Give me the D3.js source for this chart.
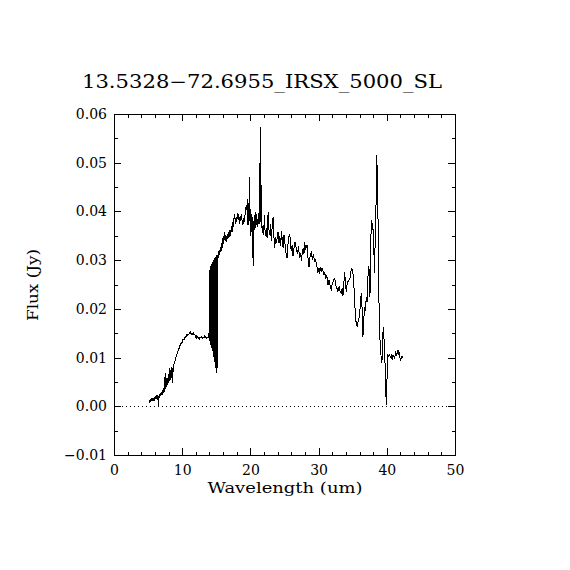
<!DOCTYPE html>
<html>
<head>
<meta charset="utf-8">
<script src="https://cdn.jsdelivr.net/npm/d3@7"></script>
<style>
html,body{margin:0;padding:0;background:#fff;}
svg{display:block;}
</style>
</head>
<body>
<svg id="chart" width="570" height="570"></svg>
<script>
// ---- data ----
const title = "13.5328\u221272.6955_IRSX_5000_SL";
const xLabel = "Wavelength (um)";
const yLabel = "Flux (Jy)";
const xTicks = [0, 10, 20, 30, 40, 50];
const xMinorTicks = [2,4,6,8,12,14,16,18,22,24,26,28,32,34,36,38,42,44,46,48];
const yTicks = [-0.01, 0.00, 0.01, 0.02, 0.03, 0.04, 0.05, 0.06];
const yMinorTicks = [-0.005, 0.005, 0.015, 0.025, 0.035, 0.045, 0.055];

const wavelength = [
5.17,5.25,5.32,5.40,5.48,5.56,5.64,5.72,5.80,5.88,5.96,6.04,6.12,6.20,6.28,6.36,6.44,6.50,6.56,6.64,
6.72,6.80,6.88,6.96,7.04,7.12,7.20,7.28,7.36,7.44,7.50,7.56,7.62,7.68,7.74,7.80,7.88,7.95,8.02,8.10,
8.16,8.22,8.30,8.36,8.42,8.50,8.56,8.62,8.68,8.76,8.85,8.95,9.05,9.15,9.25,9.35,9.45,9.55,9.66,9.75,
9.85,9.95,10.05,10.15,10.25,10.35,10.45,10.55,10.65,10.75,10.85,10.95,11.05,11.15,11.25,11.35,11.45,11.55,11.65,11.75,
11.85,11.95,12.05,12.15,12.25,12.35,12.45,12.55,12.65,12.75,12.85,12.95,13.05,13.15,13.25,13.35,13.45,13.55,13.65,13.75,
13.85,13.92,
13.95,13.975,14.00,14.025,14.05,14.075,14.10,14.125,14.15,14.175,14.20,14.225,14.25,14.275,14.30,14.325,14.35,14.375,14.40,14.425,
14.45,14.475,14.50,14.525,14.55,14.575,14.60,14.625,14.65,14.675,14.70,14.725,14.75,14.775,14.80,14.825,14.85,14.875,14.90,14.925,
14.95,14.975,15.00,15.025,15.05,15.075,15.10,15.125,15.15,15.175,15.20,15.225,15.25,
15.30,15.40,15.50,15.60,15.70,15.80,15.90,16.00,16.10,16.20,16.30,16.40,16.50,16.60,16.70,16.80,16.90,17.00,17.10,17.20,
17.30,17.40,17.50,17.60,17.70,17.80,17.90,18.00,18.10,18.20,18.30,18.40,18.50,18.60,18.70,18.80,18.90,19.00,19.10,19.20,
19.30,19.40,19.50,19.57,19.62,
19.65,19.70,19.75,19.80,19.85,19.90,19.95,20.00,20.05,20.10,20.15,20.20,20.25,20.30,20.35,20.40,20.45,20.50,20.55,20.60,
20.65,20.70,20.75,20.80,20.85,20.90,20.95,21.00,21.05,21.10,21.15,21.20,21.25,21.30,21.35,21.40,21.45,21.52,21.58,21.65,
21.75,21.86,21.95,22.06,22.15,22.25,22.36,22.45,22.60,22.70,22.84,22.95,23.05,23.15,23.33,23.45,23.57,23.70,23.85,23.95,
24.06,24.20,24.30,24.45,24.55,24.68,24.80,24.92,25.05,25.20,25.37,25.50,25.65,25.77,25.90,26.00,26.12,26.25,26.40,26.55,
26.74,26.90,27.05,27.20,27.35,27.48,27.60,27.75,27.85,27.96,28.10,28.30,28.45,28.60,28.75,28.94,29.10,29.25,29.40,29.55,
29.67,29.80,29.90,30.05,30.16,30.26,30.40,30.50,30.65,30.80,30.90,31.05,31.20,31.38,31.55,31.70,31.87,32.00,32.15,32.36,
32.50,32.65,32.84,33.00,33.15,33.33,33.45,33.57,33.70,33.82,33.95,34.07,34.20,34.30,34.45,34.60,34.80,34.94,35.04,35.15,
35.29,35.38,35.53,35.67,35.80,36.00,36.10,36.25,36.38,36.50,36.62,36.74,36.85,36.99,37.10,37.23,37.38,37.45,37.53,37.62,
37.72,37.85,37.96,38.08,38.21,38.30,38.36,38.45,38.55,38.62,38.70,38.77,38.84,38.95,39.09,39.20,39.28,39.40,39.48,39.55,
39.68,39.80,39.92,40.00,40.07,40.16,40.30,40.42,40.55,40.66,40.78,40.90,41.04,41.14,41.30,41.45,41.63,41.75,41.85,41.95,
42.05,42.15,42.25,42.36
];
const flux = [
0.0006,0.0012,0.0008,0.0015,0.0010,0.0017,0.0011,0.0016,0.0013,0.0019,0.0012,0.0020,0.0015,0.0022,0.0016,0.0021,0.0018,0.0000,0.0019,0.0024,
0.0018,0.0027,0.0022,0.0030,0.0024,0.0033,0.0028,0.0037,0.0030,0.0043,0.0068,0.0036,0.0060,0.0040,0.0052,0.0044,0.0058,0.0047,0.0066,0.0051,
0.0078,0.0055,0.0074,0.0058,0.0081,0.0064,0.0078,0.0048,0.0086,0.0084,0.0090,0.0094,0.0099,0.0103,0.0108,0.0111,0.0116,0.0119,0.0124,0.0127,
0.0131,0.0129,0.0135,0.0138,0.0136,0.0141,0.0143,0.0141,0.0146,0.0145,0.0149,0.0147,0.0151,0.0149,0.0153,0.0148,0.0150,0.0147,0.0152,0.0146,
0.0148,0.0142,0.0145,0.0140,0.0143,0.0139,0.0142,0.0139,0.0141,0.0140,0.0143,0.0140,0.0142,0.0141,0.0144,0.0141,0.0143,0.0140,0.0142,0.0141,
0.0143,0.0140,
0.0162,0.0140,0.0255,0.0138,0.0280,0.0135,0.0284,0.0131,0.0287,0.0128,0.0285,0.0125,0.0290,0.0122,0.0292,0.0120,0.0289,0.0118,0.0294,0.0116,
0.0296,0.0113,0.0293,0.0110,0.0298,0.0106,0.0300,0.0102,0.0297,0.0098,0.0302,0.0094,0.0304,0.0090,0.0301,0.0086,0.0305,0.0082,0.0307,0.0078,
0.0304,0.0074,0.0308,0.0068,0.0310,0.0072,0.0306,0.0078,0.0311,0.0085,0.0309,0.0095,0.0312,
0.0305,0.0320,0.0310,0.0327,0.0318,0.0335,0.0326,0.0350,0.0334,0.0357,0.0340,0.0352,0.0338,0.0354,0.0343,0.0358,0.0348,0.0362,0.0350,0.0370,
0.0358,0.0379,0.0368,0.0387,0.0394,0.0375,0.0388,0.0378,0.0397,0.0382,0.0394,0.0375,0.0391,0.0380,0.0394,0.0377,0.0372,0.0387,0.0378,0.0392,
0.0402,0.0414,0.0403,0.0426,0.0393,
0.0372,0.0418,0.0380,0.0410,0.0385,0.0471,0.0368,0.0405,0.0350,0.0395,0.0360,0.0392,0.0345,0.0388,0.0340,0.0287,0.0380,0.0355,0.0392,0.0362,
0.0385,0.0370,0.0398,0.0365,0.0390,0.0372,0.0394,0.0368,0.0385,0.0372,0.0396,0.0375,0.0390,0.0380,0.0500,0.0375,0.0390,0.0574,0.0368,0.0378,
0.0355,0.0372,0.0352,0.0392,0.0360,0.0350,0.0365,0.0345,0.0398,0.0365,0.0352,0.0375,0.0340,0.0362,0.0388,0.0348,0.0326,0.0348,0.0335,0.0350,
0.0358,0.0335,0.0350,0.0330,0.0360,0.0340,0.0325,0.0352,0.0336,0.0315,0.0305,0.0332,0.0348,0.0354,0.0330,0.0318,0.0332,0.0308,0.0325,0.0338,
0.0322,0.0312,0.0328,0.0305,0.0315,0.0298,0.0315,0.0325,0.0312,0.0337,0.0322,0.0330,0.0305,0.0285,0.0308,0.0318,0.0300,0.0313,0.0296,0.0302,
0.0292,0.0283,0.0274,0.0284,0.0272,0.0285,0.0275,0.0283,0.0278,0.0270,0.0274,0.0262,0.0270,0.0250,0.0260,0.0246,0.0240,0.0252,0.0256,0.0264,
0.0248,0.0244,0.0236,0.0246,0.0236,0.0233,0.0242,0.0226,0.0252,0.0275,0.0250,0.0235,0.0255,0.0256,0.0259,0.0262,0.0283,0.0280,0.0273,0.0250,
0.0225,0.0184,0.0170,0.0163,0.0175,0.0184,0.0205,0.0232,0.0200,0.0143,0.0175,0.0204,0.0195,0.0225,0.0215,0.0266,0.0287,0.0250,0.0225,0.0300,
0.0383,0.0375,0.0369,0.0330,0.0273,0.0350,0.0407,0.0415,0.0516,0.0420,0.0403,0.0300,0.0225,0.0150,0.0116,0.0095,0.0088,0.0140,0.0163,0.0150,
0.0115,0.0060,0.0003,0.0040,0.0075,0.0105,0.0102,0.0106,0.0101,0.0104,0.0096,0.0105,0.0103,0.0099,0.0110,0.0105,0.0116,0.0108,0.0112,0.0098,
0.0094,0.0104,0.0099,0.0102
];

// ---- drawing ----
const svg = d3.select("#chart");
const FONT = "DejaVu Serif";
const x = d3.scaleLinear().domain([0, 50]).range([114, 455]);
const y = d3.scaleLinear().domain([-0.01, 0.06]).range([455, 114]);

const fmtY = d3.format(".2f");

function styleAxis(g) {
  g.attr("font-family", FONT).attr("font-size", 14);
  g.selectAll("path.domain").attr("stroke", "#000").attr("shape-rendering", "crispEdges");
  g.selectAll("line").attr("stroke", "#000").attr("shape-rendering", "crispEdges");
  g.selectAll("text").attr("fill", "#000");
}

// bottom
svg.append("g").attr("transform", "translate(0,455)")
  .call(d3.axisBottom(x).tickValues(xTicks).tickSize(-7).tickSizeOuter(0).tickPadding(10).tickFormat(d3.format("d")))
  .call(styleAxis);
svg.append("g").attr("transform", "translate(0,455)")
  .call(d3.axisBottom(x).tickValues(xMinorTicks).tickSize(-3.5).tickSizeOuter(0).tickFormat(""))
  .call(styleAxis);
// top
svg.append("g").attr("transform", "translate(0,114)")
  .call(d3.axisTop(x).tickValues(xTicks).tickSize(-7).tickSizeOuter(0).tickFormat(""))
  .call(styleAxis);
svg.append("g").attr("transform", "translate(0,114)")
  .call(d3.axisTop(x).tickValues(xMinorTicks).tickSize(-3.5).tickSizeOuter(0).tickFormat(""))
  .call(styleAxis);
// left
svg.append("g").attr("transform", "translate(114,0)")
  .call(d3.axisLeft(y).tickValues(yTicks).tickSize(-7).tickSizeOuter(0).tickPadding(7).tickFormat(d => fmtY(d)))
  .call(styleAxis);
svg.append("g").attr("transform", "translate(114,0)")
  .call(d3.axisLeft(y).tickValues(yMinorTicks).tickSize(-3.5).tickSizeOuter(0).tickFormat(""))
  .call(styleAxis);
// right
svg.append("g").attr("transform", "translate(455,0)")
  .call(d3.axisRight(y).tickValues(yTicks).tickSize(-7).tickSizeOuter(0).tickFormat(""))
  .call(styleAxis);
svg.append("g").attr("transform", "translate(455,0)")
  .call(d3.axisRight(y).tickValues(yMinorTicks).tickSize(-3.5).tickSizeOuter(0).tickFormat(""))
  .call(styleAxis);

// zero line (dotted)
svg.append("line")
  .attr("x1", x(0)).attr("x2", x(50))
  .attr("y1", Math.round(y(0)) + 0.5).attr("y2", Math.round(y(0)) + 0.5)
  .attr("stroke", "#000").attr("stroke-width", 1).attr("stroke-dasharray", "1,3");

// spectrum
const pts = wavelength.map((w, i) => [w, flux[i]]);
svg.append("path")
  .datum(pts)
  .attr("fill", "none")
  .attr("stroke", "#000")
  .attr("stroke-width", 1)
  .attr("shape-rendering", "crispEdges")
  .attr("d", d3.line().x(d => x(d[0])).y(d => y(d[1])));

// title
svg.append("text")
  .attr("x", 262).attr("y", 88)
  .attr("text-anchor", "middle")
  .attr("font-family", FONT).attr("font-size", 18)
  .attr("textLength", 360).attr("lengthAdjust", "spacingAndGlyphs")
  .text(title);

// x label
svg.append("text")
  .attr("x", 285).attr("y", 493)
  .attr("text-anchor", "middle")
  .attr("font-family", FONT).attr("font-size", 14)
  .attr("textLength", 155).attr("lengthAdjust", "spacingAndGlyphs")
  .text(xLabel);

// y label
svg.append("text")
  .attr("transform", "translate(38,285) rotate(-90)")
  .attr("text-anchor", "middle")
  .attr("font-family", FONT).attr("font-size", 14)
  .attr("textLength", 72).attr("lengthAdjust", "spacingAndGlyphs")
  .text(yLabel);
</script>
</body>
</html>
